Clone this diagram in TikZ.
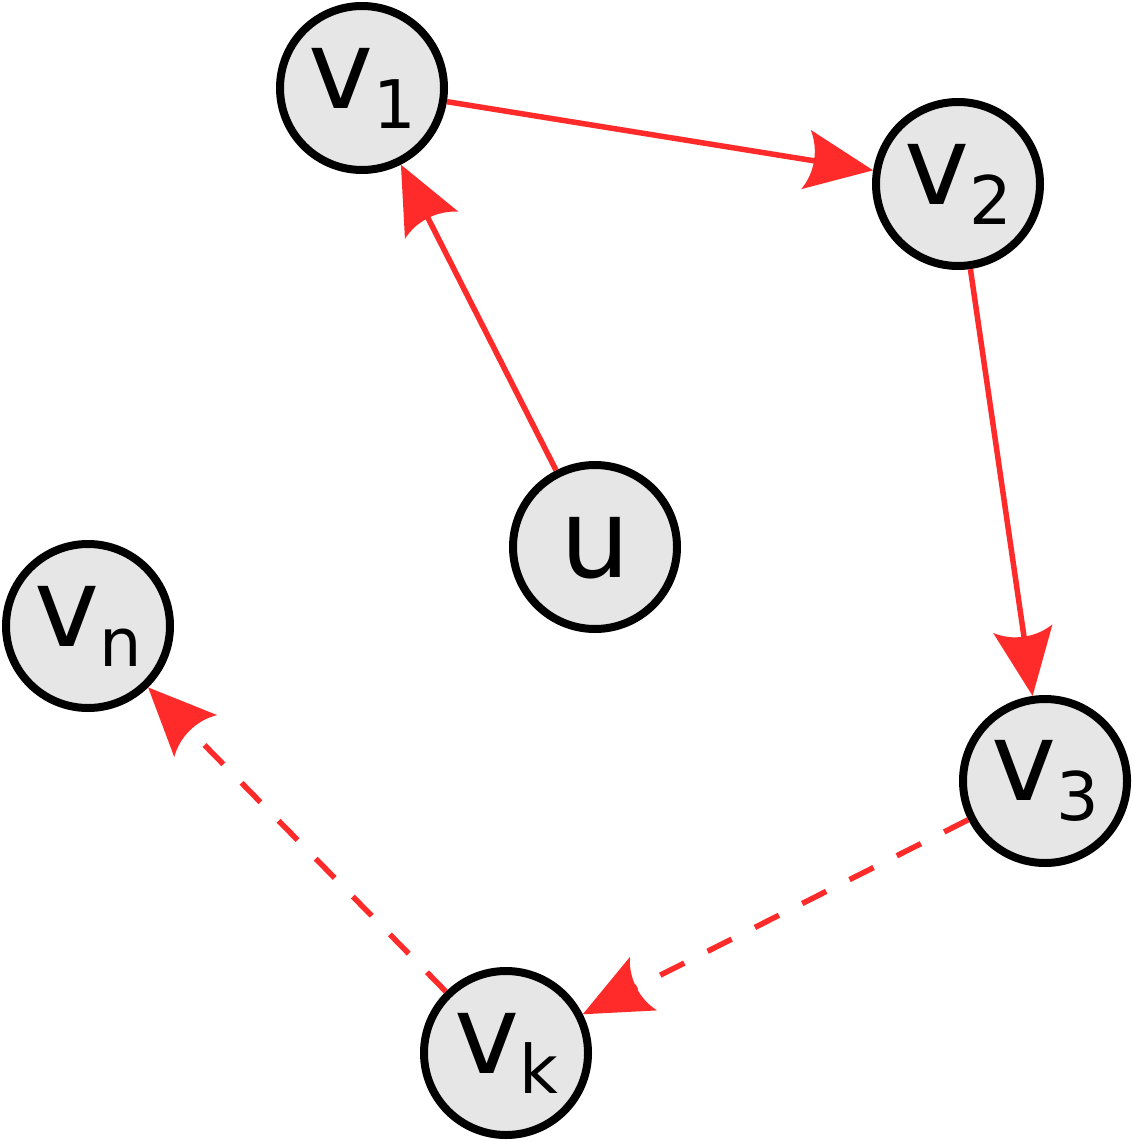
\documentclass[tikz,border=0pt]{standalone}
\usepackage{fontspec}
\setmainfont{DejaVu Sans}
\usetikzlibrary{arrows.meta}
\definecolor{myred}{HTML}{FF2A2A}
\definecolor{nodefill}{HTML}{E6E6E6}
\pgfdeclarearrow{
  name = Curvy,
  parameters = {\the\pgfarrowlength,\the\pgfarrowwidth},
  setup code = {
    \pgfarrowssettipend{0pt}
    \pgfarrowssetlineend{-0.6\pgfarrowlength}
    \pgfarrowssetbackend{-\pgfarrowlength}
    \pgfarrowssavethe\pgfarrowlength
    \pgfarrowssavethe\pgfarrowwidth
  },
  drawing code = {
    \pgfpathmoveto{\pgfqpoint{0pt}{0pt}}
    \pgfpathlineto{\pgfpoint{-\pgfarrowlength}{0.5\pgfarrowwidth}}
    \pgfpathcurveto{\pgfpoint{-0.84\pgfarrowlength}{0.2\pgfarrowwidth}}
                   {\pgfpoint{-0.84\pgfarrowlength}{-0.2\pgfarrowwidth}}
                   {\pgfpoint{-\pgfarrowlength}{-0.5\pgfarrowwidth}}
    \pgfpathclose
    \pgfusepathqfill
  },
  defaults = {length=68pt, width=60pt}
}
\newcommand\mysubs[1]{\raisebox{-20pt}{\fontsize{67}{67}\selectfont #1}}
\begin{document}
\begin{tikzpicture}[x=1pt,y=-1pt,
  vert/.style={circle, draw=black, fill=nodefill, line width=8pt,
    minimum size=164pt, inner sep=0pt, font=\fontsize{110}{132}\selectfont},
  link/.style={color=myred, line width=5.5pt, -{Curvy[length=68pt,width=60pt]}},
  dlink/.style={link, dash pattern=on 27pt off 26pt}]
\useasboundingbox (0,0) rectangle (1133,1142);
\node[vert] (v1) at (362,88) {v\mysubs{1}};
\node[vert] (v2) at (958,184) {v\mysubs{2}};
\node[vert] (u)  at (595,547) {u};
\node[vert] (vn) at (88,626) {v\mysubs{n}};
\node[vert] (v3) at (1045,781) {v\mysubs{3}};
\node[vert] (vk) at (506,1053) {v\mysubs{k}};
\draw[link] (u) -- (v1);
\draw[link] (v1) -- (v2);
\draw[link] (v2) -- (v3);
\draw[dlink] (v3) -- (vk);
\draw[dlink] (vk) -- (vn);
\end{tikzpicture}
\end{document}
